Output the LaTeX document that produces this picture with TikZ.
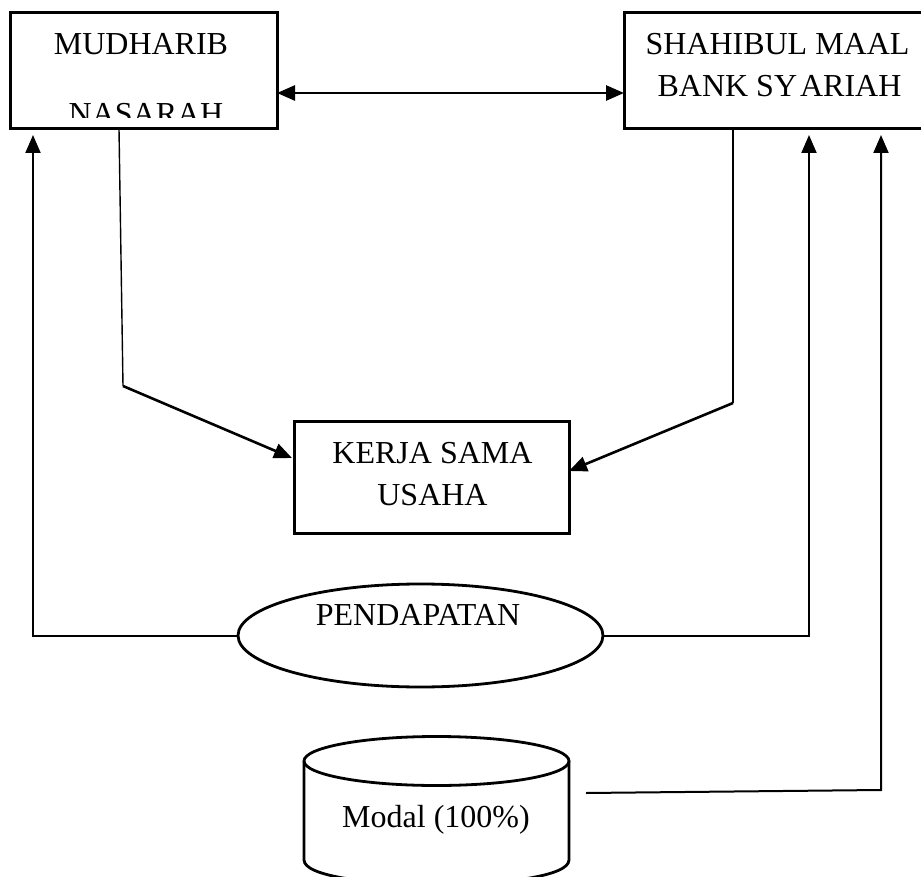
\documentclass[tikz,border=0pt]{standalone}
\usepackage{fontspec}
\setmainfont{Liberation Serif}
\usetikzlibrary{arrows.meta,shapes.geometric,calc}
\begin{document}
\begin{tikzpicture}[x=1pt,y=-1pt,
  boxshape/.style={draw, line width=3pt, inner sep=0pt, outer sep=0pt},
  txt/.style={font=\fontsize{32}{38}\selectfont, anchor=base, inner sep=0pt},
  feed/.style={line width=1.4pt},
  tip/.tip={Triangle[length=18pt,width=15pt]},
  flow/.style={line width=2.6pt, -tip},
  rail/.style={line width=2pt, -tip}]
\useasboundingbox (0,0) rectangle (921,877);
\clip (0,0) rectangle (921,877);

% boxes
\node[boxshape, minimum width=267pt, minimum height=116pt] (mud) at (143.5,71) {};
\node[boxshape, minimum width=311pt, minimum height=116pt] (shahib) at (779.5,71) {};
\node[boxshape, minimum width=275pt, minimum height=112pt] (kerja) at (431.5,477) {};
\node[draw, ellipse, line width=2.8pt, minimum width=365pt, minimum height=103pt, inner sep=0pt] (pend) at (420.5,635.5) {};

% cylinder for the capital
\draw[line width=2.8pt] (436.5,761) ellipse [x radius=132.5, y radius=24.5];
\draw[line width=2.8pt] (304,761) -- (304,860) .. controls (304,892.7) and (569,892.7) .. (569,860) -- (569,761);

% labels
\node[txt] (tMud) at (141,55) {MUDHARIB};
\begin{scope}
  \clip (mud.north west) rectangle (277,118);
  \node[txt] (tNas) at (146,125) {NASARAH};
\end{scope}
\node[txt] (tSha) at (777.5,55) {SHAHIBUL MAAL};
\node[txt] (tBank) at (779.5,97) {BANK SY\kern3pt ARIAH};
\node[txt] (tKer) at (432.5,463) {KERJA SAMA};
\node[txt] (tUsa) at (432.5,505) {USAHA};
\node[txt] (tPen) at (418,625) {PENDAPATAN};
\node[txt] (tMod) at (436,827) {Modal (100\%)};

% connectors
\coordinate (dropL) at (123,386);
\coordinate (dropR) at (733,403);
\draw[feed] ($(mud.south west)+(109,0)$) -- (dropL);
\draw[flow] (dropL) -- ($(kerja.west)+(-2,-19)$);
\draw[feed] (dropR |- shahib.south) -- (dropR);
\draw[flow] (dropR) -- ($(kerja.east)+(0,-6)$);

\draw[line width=2.6pt, tip-tip] ($(mud.east)+(0,22)$) -- ($(shahib.west)+(0,22)$);

\coordinate (railL) at (33,135);
\coordinate (railR) at (809,135);
\coordinate (railM) at (881,135);
\coordinate (modOut) at (586,793);
\coordinate (modCorner) at (881,790);
\draw[rail] (pend.west) -- (railL |- pend.west) -- (railL);
\draw[rail] (pend.east) -- (railR |- pend.east) -- (railR);
\draw[rail] (modOut) -- (modCorner) -- (railM);
\end{tikzpicture}
\end{document}
